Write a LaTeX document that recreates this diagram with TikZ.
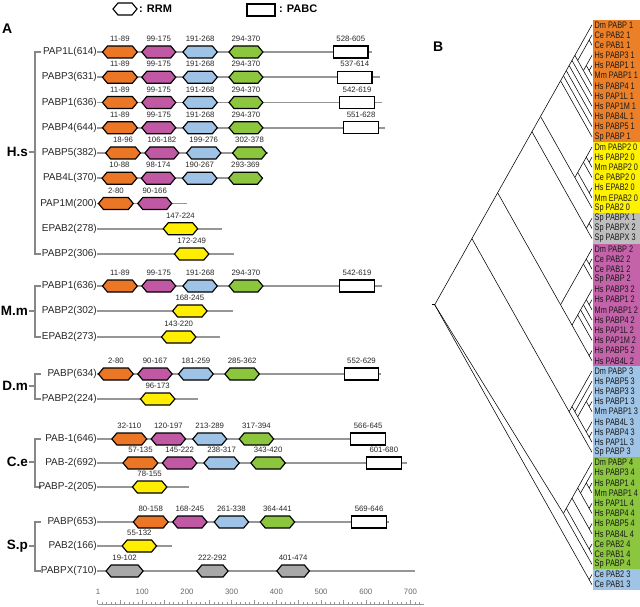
\documentclass[tikz,border=0pt]{standalone}
\usepackage{fontspec}
\setmainfont{Liberation Sans}
\newfontfamily\narrowf[FakeStretch=0.77]{Liberation Sans}
\usetikzlibrary{calc}
\definecolor{cOr}{RGB}{234,118,38}
\definecolor{cMg}{RGB}{192,88,164}
\definecolor{cBl}{RGB}{158,195,230}
\definecolor{cGr}{RGB}{140,197,62}
\definecolor{cYe}{RGB}{255,238,0}
\definecolor{cGy}{RGB}{168,168,168}
\definecolor{bOr}{RGB}{236,128,40}
\definecolor{bYe}{RGB}{255,242,0}
\definecolor{bGy}{RGB}{190,190,190}
\definecolor{bMg}{RGB}{196,98,170}
\definecolor{bBl}{RGB}{160,196,230}
\definecolor{bGr}{RGB}{140,198,62}
\definecolor{lineG}{RGB}{150,150,150}
\newcounter{dn}
\newcommand\ux[1]{98+(#1-1)*0.447}
\newcommand\rrm[4]{%
 \stepcounter{dn}%
 \pgfmathsetmacro\xa{\ux{#2}}\pgfmathsetmacro\xb{\ux{#3}}%
 \filldraw[rrmst,fill=#4] (\xa,#1) -- (\xa+5,#1-6) -- (\xb-5,#1-6) -- (\xb,#1) -- (\xb-5,#1+6) -- (\xa+5,#1+6) -- cycle;
 \node[numlbl] (d\thedn) at ({(\xa+\xb)/2},#1-13) {#2-#3};}
\newcommand\pabc[3]{%
 \stepcounter{dn}%
 \pgfmathsetmacro\xa{\ux{#2}}\pgfmathsetmacro\xb{\ux{#3}}%
 \filldraw[pabcst] (\xa,#1-6) rectangle (\xb,#1+6);
 \node[numlbl] (d\thedn) at ({(\xa+\xb)/2},#1-13) {#2-#3};}
\newcommand\prow[4]{%
 \node[rowlbl] (#1) at (97,#2) {#4};
 \draw[bb] (97,#2) -- ({\ux{#3}},#2);}
\newcommand\tn[3]{\coordinate (#1) at ({592-(#3-#2)*10.18/3.56},{24.8+(#2+#3)*5.09});}
\newcommand\ed[2]{\draw[treeln] (#1) -- (#2);}
\newcommand\band[3]{\fill[#1] (593,{24.8+#2*10.18-5.09}) rectangle (640,{24.8+#3*10.18+5.09});}
\tikzset{
 rrmst/.style={draw=black, line width=1.15pt, line join=miter},
 pabcst/.style={draw=black, fill=white, line width=1.15pt},
 bb/.style={draw=lineG, line width=1.8pt},
 brk/.style={draw=lineG!90!black, line width=1.3pt},
 numlbl/.style={font=\fontsize{7.8}{8}\selectfont, text=black!85, inner sep=0pt},
 rowlbl/.style={font=\fontsize{10}{11}\selectfont, text=black!85, anchor=east, inner sep=0pt},
 splbl/.style={font=\fontsize{13.5}{14}\selectfont\bfseries, anchor=east, inner sep=0pt},
 blbl/.style={font=\narrowf\fontsize{9.5}{10}\selectfont, anchor=west, inner sep=0pt, text=black!90},
 treeln/.style={draw=black, line width=0.55pt},
 rul/.style={draw=lineG, line width=0.6pt},
}
\begin{document}
\begin{tikzpicture}[x=1pt,y=-1pt]
\useasboundingbox (0,0) rectangle (640,607);
% legend
\filldraw[rrmst,fill=white] (113,9) -- (118,3) -- (132,3) -- (137,9) -- (132,15) -- (118,15) -- cycle;
\node[anchor=west, inner sep=0pt, font=\bfseries\fontsize{11}{12}\selectfont] (lgR) at (139,8.5) {: RRM};
\filldraw[pabcst] (247,4) rectangle (275,16);
\node[anchor=west, inner sep=0pt, font=\bfseries\fontsize{11}{12}\selectfont] (lgP) at (279,8.5) {: PABC};
\node[anchor=west, inner sep=0pt, font=\bfseries\fontsize{14}{14}\selectfont] (pA) at (2,29) {A};
\node[anchor=west, inner sep=0pt, font=\bfseries\fontsize{14}{14}\selectfont] (pB) at (433,47) {B};
% species brackets
\draw[brk] (41,52) -- (35,52) -- (35,254) -- (41,254);
\draw[brk] (35,152) -- (29,152); \node[splbl] (sHs) at (28,152) {H.s};
\draw[brk] (41,286) -- (35,286) -- (35,337) -- (41,337);
\draw[brk] (35,311) -- (29,311); \node[splbl] (sMm) at (28,311) {M.m};
\draw[brk] (41,374) -- (35,374) -- (35,399) -- (41,399);
\draw[brk] (35,386) -- (29,386); \node[splbl] (sDm) at (28,386) {D.m};
\draw[brk] (41,439) -- (35,439) -- (35,487) -- (41,487);
\draw[brk] (35,462) -- (29,462); \node[splbl] (sCe) at (28,462) {C.e};
\draw[brk] (41,522) -- (35,522) -- (35,571) -- (41,571);
\draw[brk] (35,546) -- (29,546); \node[splbl] (sSp) at (28,546) {S.p};
% H.s rows
\prow{r1}{52}{614}{PAP1L(614)}
\rrm{52}{11}{89}{cOr}\rrm{52}{99}{175}{cMg}\rrm{52}{191}{268}{cBl}\rrm{52}{294}{370}{cGr}\pabc{52}{528}{605}
\prow{r2}{77.25}{631}{PABP3(631)}
\rrm{77.25}{11}{89}{cOr}\rrm{77.25}{99}{175}{cMg}\rrm{77.25}{191}{268}{cBl}\rrm{77.25}{294}{370}{cGr}\pabc{77.25}{537}{614}
\prow{r3}{102.5}{636}{PABP1(636)}
\rrm{102.5}{11}{89}{cOr}\rrm{102.5}{99}{175}{cMg}\rrm{102.5}{191}{268}{cBl}\rrm{102.5}{294}{370}{cGr}\pabc{102.5}{542}{619}
\prow{r4}{127.75}{644}{PABP4(644)}
\rrm{127.75}{11}{89}{cOr}\rrm{127.75}{99}{175}{cMg}\rrm{127.75}{191}{268}{cBl}\rrm{127.75}{294}{370}{cGr}\pabc{127.75}{551}{628}
\prow{r5}{153}{382}{PABP5(382)}
\rrm{153}{18}{96}{cOr}\rrm{153}{106}{182}{cMg}\rrm{153}{199}{276}{cBl}\rrm{153}{302}{378}{cGr}
\prow{r6}{178.25}{370}{PAB4L(370)}
\rrm{178.25}{10}{88}{cOr}\rrm{178.25}{98}{174}{cMg}\rrm{178.25}{190}{267}{cBl}\rrm{178.25}{293}{369}{cGr}
\prow{r7}{203.5}{200}{PAP1M(200)}
\rrm{203.5}{2}{80}{cOr}\rrm{203.5}{90}{166}{cMg}
\prow{r8}{228.75}{278}{EPAB2(278)}
\rrm{228.75}{147}{224}{cYe}
\prow{r9}{254}{306}{PABP2(306)}
\rrm{254}{172}{249}{cYe}
% M.m
\prow{r10}{286}{636}{PABP1(636)}
\rrm{286}{11}{89}{cOr}\rrm{286}{99}{175}{cMg}\rrm{286}{191}{268}{cBl}\rrm{286}{294}{370}{cGr}\pabc{286}{542}{619}
\prow{r11}{311}{302}{PABP2(302)}
\rrm{311}{168}{245}{cYe}
\prow{r12}{337}{273}{EPAB2(273)}
\rrm{337}{143}{220}{cYe}
% D.m
\prow{r13}{374}{634}{PABP(634)}
\rrm{374}{2}{80}{cOr}\rrm{374}{90}{167}{cMg}\rrm{374}{181}{259}{cBl}\rrm{374}{285}{362}{cGr}\pabc{374}{552}{629}
\prow{r14}{399}{224}{PABP2(224)}
\rrm{399}{96}{173}{cYe}
% C.e
\prow{r15}{439}{646}{PAB-1(646)}
\rrm{439}{32}{110}{cOr}\rrm{439}{120}{197}{cMg}\rrm{439}{213}{289}{cBl}\rrm{439}{317}{394}{cGr}\pabc{439}{566}{645}
\prow{r16}{463}{692}{PAB-2(692)}
\rrm{463}{57}{135}{cOr}\rrm{463}{145}{222}{cMg}\rrm{463}{238}{317}{cBl}\rrm{463}{343}{420}{cGr}\pabc{463}{601}{680}
\prow{r17}{487}{205}{PABP-2(205)}
\rrm{487}{78}{155}{cYe}
% S.p
\prow{r18}{522}{653}{PABP(653)}
\rrm{522}{80}{158}{cOr}\rrm{522}{168}{245}{cMg}\rrm{522}{261}{338}{cBl}\rrm{522}{364}{441}{cGr}\pabc{522}{569}{646}
\prow{r19}{546}{166}{PAB2(166)}
\rrm{546}{55}{132}{cYe}
\prow{r20}{571}{710}{PABPX(710)}
\rrm{571}{19}{102}{cGy}\rrm{571}{222}{292}{cGy}\rrm{571}{401}{474}{cGy}
% ruler
\draw[rul] (97.6,604) -- (424,604);
\foreach \u in {0,10,...,720} \draw[rul] ({97.6+\u*0.447},604) -- ++(0,-2.5);
\foreach \u in {0,50,...,700} \draw[rul] ({97.6+\u*0.447},604) -- ++(0,-4);
\foreach \u in {1,100,200,300,400,500,600,700} \node[numlbl, text=black!60] (ru\u) at ({\ux{\u}},592) {\u};
% Panel B bands
\band{bOr}{0}{11}\band{bYe}{12}{18}\band{bGy}{19}{21}\band{bMg}{22}{33}
\band{bBl}{34}{42}\band{bGr}{43}{53}\band{bBl}{54}{55}
\foreach \t [count=\i from 0] in {Dm PABP 1,Ce PAB2 1,Ce PAB1 1,Hs PABP3 1,Hs PABP1 1,Mm PABP1 1,Hs PABP4 1,Hs PAP1L 1,Hs PAP1M 1,Hs PAB4L 1,Hs PABP5 1,Sp PABP 1,Dm PABP2 0,Hs PABP2 0,Mm PABP2 0,Ce PABP2 0,Hs EPAB2 0,Mm EPAB2 0,Sp PAB2 0,Sp PABPX 1,Sp PABPX 2,Sp PABPX 3,Dm PABP 2,Ce PAB2 2,Ce PAB1 2,Sp PABP 2,Hs PABP3 2,Hs PABP1 2,Mm PABP1 2,Hs PABP4 2,Hs PAP1L 2,Hs PAP1M 2,Hs PABP5 2,Hs PAB4L 2,Dm PABP 3,Hs PABP5 3,Hs PABP3 3,Hs PABP1 3,Mm PABP1 3,Hs PAB4L 3,Hs PABP4 3,Hs PAP1L 3,Sp PABP 3,Dm PABP 4,Hs PABP3 4,Hs PABP1 4,Mm PABP1 4,Hs PAP1L 4,Hs PABP4 4,Hs PABP5 4,Hs PAB4L 4,Ce PAB2 4,Ce PAB1 4,Sp PABP 4,Ce PAB2 3,Ce PAB1 3}
  {\node[blbl] (lab\i) at (594.5,{24.8+\i*10.18}) {\t};}
% tree
\foreach \i in {0,...,55} {\tn{t\i}{\i}{\i}}
\tn{o12}{1}{2}\ed{o12}{t1}\ed{o12}{t2}
\tn{o45}{4}{5}\ed{o45}{t4}\ed{o45}{t5}
\tn{o35}{3}{5}\ed{o35}{t3}\ed{o35}{o45}
\tn{o36}{3}{6}\ed{o36}{o35}\ed{o36}{t6}
\tn{o16}{1}{6}\ed{o16}{o12}\ed{o16}{o36}
\tn{o06}{0}{6}\ed{o06}{t0}\ed{o06}{o16}
\tn{o07}{0}{7}\ed{o07}{o06}\ed{o07}{t7}
\tn{o08}{0}{8}\ed{o08}{o07}\ed{o08}{t8}
\tn{o09}{0}{9}\ed{o09}{o08}\ed{o09}{t9}
\tn{o010}{0}{10}\ed{o010}{o09}\ed{o010}{t10}
\tn{o011}{0}{11}\ed{o011}{o010}\ed{o011}{t11}
\tn{y1314}{13}{14}\ed{y1314}{t13}\ed{y1314}{t14}
\tn{y1214}{12}{14}\ed{y1214}{t12}\ed{y1214}{y1314}
\tn{y1215}{12}{15}\ed{y1215}{y1214}\ed{y1215}{t15}
\tn{y1617}{16}{17}\ed{y1617}{t16}\ed{y1617}{t17}
\tn{y1217}{12}{17}\ed{y1217}{y1215}\ed{y1217}{y1617}
\tn{y1218}{12}{18}\ed{y1218}{y1217}\ed{y1218}{t18}
\tn{g1920}{19}{20}\ed{g1920}{t19}\ed{g1920}{t20}
\tn{g1921}{19}{21}\ed{g1921}{g1920}\ed{g1921}{t21}
\tn{u018}{0}{18}\ed{u018}{o011}\ed{u018}{y1218}
\tn{u021}{0}{21}\ed{u021}{u018}\ed{u021}{g1921}
\tn{m2324}{23}{24}\ed{m2324}{t23}\ed{m2324}{t24}
\tn{m2224}{22}{24}\ed{m2224}{t22}\ed{m2224}{m2324}
\tn{m2225}{22}{25}\ed{m2225}{m2224}\ed{m2225}{t25}
\tn{m2728}{27}{28}\ed{m2728}{t27}\ed{m2728}{t28}
\tn{m2628}{26}{28}\ed{m2628}{t26}\ed{m2628}{m2728}
\tn{m2629}{26}{29}\ed{m2629}{m2628}\ed{m2629}{t29}
\tn{m2630}{26}{30}\ed{m2630}{m2629}\ed{m2630}{t30}
\tn{m2631}{26}{31}\ed{m2631}{m2630}\ed{m2631}{t31}
\tn{m3233}{32}{33}\ed{m3233}{t32}\ed{m3233}{t33}
\tn{m2633}{26}{33}\ed{m2633}{m2631}\ed{m2633}{m3233}
\tn{m2233}{22}{33}\ed{m2233}{m2225}\ed{m2233}{m2633}
\tn{u033}{0}{33}\ed{u033}{u021}\ed{u033}{m2233}
\tn{b3738}{37}{38}\ed{b3738}{t37}\ed{b3738}{t38}
\tn{b3638}{36}{38}\ed{b3638}{t36}\ed{b3638}{b3738}
\tn{b4041}{40}{41}\ed{b4041}{t40}\ed{b4041}{t41}
\tn{b3941}{39}{41}\ed{b3941}{t39}\ed{b3941}{b4041}
\tn{b3641}{36}{41}\ed{b3641}{b3638}\ed{b3641}{b3941}
\tn{b3541}{35}{41}\ed{b3541}{t35}\ed{b3541}{b3641}
\tn{b3441}{34}{41}\ed{b3441}{t34}\ed{b3441}{b3541}
\tn{b3442}{34}{42}\ed{b3442}{b3441}\ed{b3442}{t42}
\tn{u042}{0}{42}\ed{u042}{u033}\ed{u042}{b3442}
\tn{e4546}{45}{46}\ed{e4546}{t45}\ed{e4546}{t46}
\tn{e4446}{44}{46}\ed{e4446}{t44}\ed{e4446}{e4546}
\tn{e4748}{47}{48}\ed{e4748}{t47}\ed{e4748}{t48}
\tn{e4448}{44}{48}\ed{e4448}{e4446}\ed{e4448}{e4748}
\tn{e4348}{43}{48}\ed{e4348}{t43}\ed{e4348}{e4448}
\tn{e4950}{49}{50}\ed{e4950}{t49}\ed{e4950}{t50}
\tn{e4350}{43}{50}\ed{e4350}{e4348}\ed{e4350}{e4950}
\tn{e5152}{51}{52}\ed{e5152}{t51}\ed{e5152}{t52}
\tn{e4352}{43}{52}\ed{e4352}{e4350}\ed{e4352}{e5152}
\tn{e4353}{43}{53}\ed{e4353}{e4352}\ed{e4353}{t53}
\tn{c5455}{54}{55}\ed{c5455}{t54}\ed{c5455}{t55}
\tn{root}{0}{55}\ed{root}{u042}\ed{root}{e4353}\ed{root}{c5455}
\draw[treeln] (root) -- ++(-3,0);
\end{tikzpicture}
\end{document}
